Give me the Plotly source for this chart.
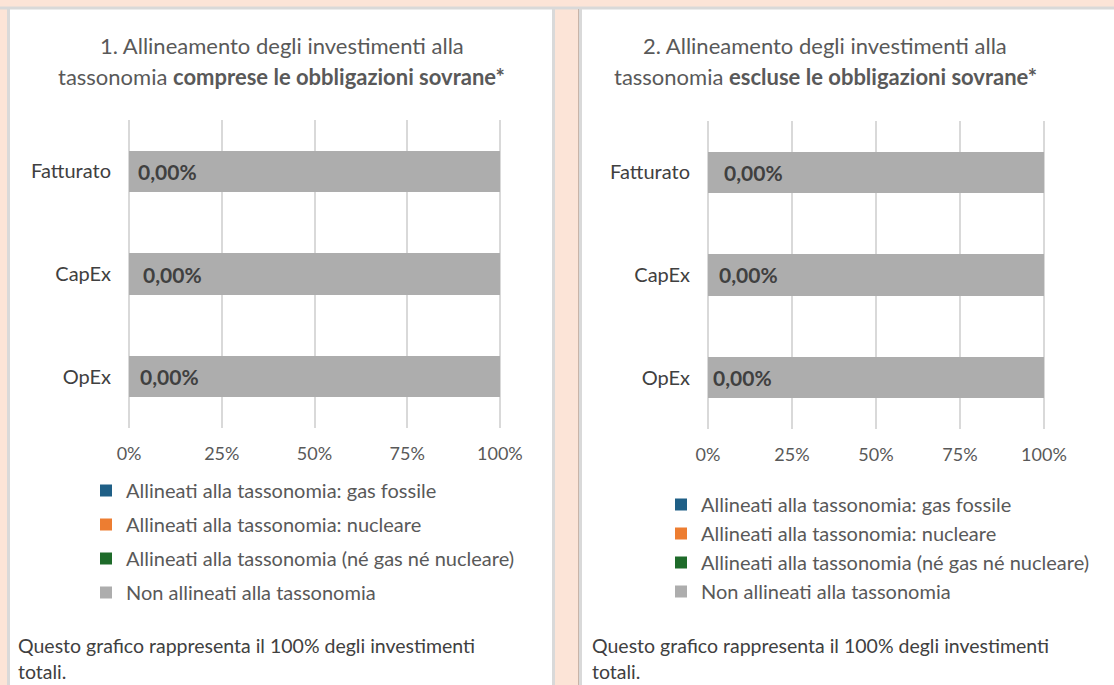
import plotly.graph_objects as go

# ---------------- data ----------------
categories = ["Fatturato", "CapEx", "OpEx"]
series_names = [
    "Allineati alla tassonomia: gas fossile",
    "Allineati alla tassonomia: nucleare",
    "Allineati alla tassonomia (né gas né nucleare)",
    "Non allineati alla tassonomia",
]
series_colors = ["#1F5F86", "#ED7D31", "#1E6B2A", "#ADADAD"]

# chart 1: including sovereign bonds
incl_gas = [0, 0, 0]
incl_nuclear = [0, 0, 0]
incl_other = [0, 0, 0]
incl_not_aligned = [100, 100, 100]

# chart 2: excluding sovereign bonds
excl_gas = [0, 0, 0]
excl_nuclear = [0, 0, 0]
excl_other = [0, 0, 0]
excl_not_aligned = [100, 100, 100]

tick_vals = [0, 25, 50, 75, 100]
tick_text = ["0%", "25%", "50%", "75%", "100%"]

title1_line1 = "1. Allineamento degli investimenti alla"
title1_line2 = "tassonomia <b>comprese le obbligazioni sovrane*</b>"
title2_line1 = "2. Allineamento degli investimenti alla"
title2_line2 = "tassonomia <b>escluse le obbligazioni sovrane*</b>"
note_line1 = "Questo grafico rappresenta il 100% degli investimenti"
note_line2 = "totali."

# ---------------- layout helpers ----------------
W, H = 1114, 685
FONT = "Lato, 'Open Sans', sans-serif"


def px(x):
    return x / W


def py(y):
    return 1 - y / H


fig = go.Figure()

chart_data = [
    (incl_gas, incl_nuclear, incl_other, incl_not_aligned),
    (excl_gas, excl_nuclear, excl_other, excl_not_aligned),
]
for ci, values in enumerate(chart_data):
    xa = "x" if ci == 0 else "x2"
    ya = "y" if ci == 0 else "y2"
    lg = "legend" if ci == 0 else "legend2"
    for si, (name, color, vals) in enumerate(zip(series_names, series_colors, values)):
        fig.add_trace(go.Bar(
            x=vals, y=categories, orientation="h", name=name,
            marker=dict(color=color, line=dict(width=0)),
            xaxis=xa, yaxis=ya, legend=lg,
            legendgroup=f"c{ci}s{si}", hoverinfo="skip",
        ))

# aligned totals for the labels
labels1 = [a + b + c for a, b, c in zip(incl_gas, incl_nuclear, incl_other)]
labels2 = [a + b + c for a, b, c in zip(excl_gas, excl_nuclear, excl_other)]
shifts1 = [7, 12, 9]
shifts2 = [14, 9, 3]

annotations = []
for cat, v, s in zip(categories, labels1, shifts1):
    annotations.append(dict(x=0, y=cat, xref="x", yref="y", xanchor="left", xshift=s,
                            text="<b>" + f"{v:.2f}".replace(".", ",") + "%</b>", showarrow=False,
                            font=dict(family=FONT, size=21, color="#404040")))
for cat, v, s in zip(categories, labels2, shifts2):
    annotations.append(dict(x=0, y=cat, xref="x2", yref="y2", xanchor="left", xshift=s,
                            text="<b>" + f"{v:.2f}".replace(".", ",") + "%</b>", showarrow=False,
                            font=dict(family=FONT, size=21, color="#404040")))

# titles
for txt, cx, cy in [(title1_line1, 282, 46), (title1_line2, 281, 77),
                    (title2_line1, 825, 46), (title2_line2, 825, 77)]:
    annotations.append(dict(x=px(cx), y=py(cy), xref="paper", yref="paper", text=txt,
                            showarrow=False, xanchor="center", yanchor="middle",
                            font=dict(family=FONT, size=22, color="#595959")))
# footnotes
for x0 in (16, 590):
    for txt, cy in [(note_line1, 645), (note_line2, 671)]:
        annotations.append(dict(x=px(x0), y=py(cy), xref="paper", yref="paper", text=txt,
                                showarrow=False, xanchor="left", yanchor="middle",
                                font=dict(family=FONT, size=19.5, color="#404040")))

BORDER = "#D9D9D9"
shapes = [
    dict(type="rect", xref="paper", yref="paper", x0=px(9), x1=px(553), y0=py(700), y1=py(9),
         fillcolor="white", line=dict(width=0), layer="below"),
    dict(type="rect", xref="paper", yref="paper", x0=px(580), x1=px(1130), y0=py(700), y1=py(9),
         fillcolor="white", line=dict(width=0), layer="below"),
    dict(type="line", xref="paper", yref="paper", x0=0, x1=1, y0=py(8), y1=py(8),
         line=dict(color=BORDER, width=3), layer="below"),
    dict(type="line", xref="paper", yref="paper", x0=px(8.5), x1=px(8.5), y0=py(700), y1=py(8),
         line=dict(color=BORDER, width=3), layer="below"),
    dict(type="line", xref="paper", yref="paper", x0=px(553.5), x1=px(553.5), y0=py(700), y1=py(8),
         line=dict(color=BORDER, width=3), layer="below"),
    dict(type="line", xref="paper", yref="paper", x0=px(578.5), x1=px(578.5), y0=py(700), y1=py(9),
         line=dict(color="#C8B4A8", width=1), layer="below"),
    dict(type="line", xref="paper", yref="paper", x0=px(580.5), x1=px(580.5), y0=py(700), y1=py(8),
         line=dict(color=BORDER, width=3), layer="below"),
]

xaxis_common = dict(range=[-0.3, 100.3], tickvals=tick_vals, ticktext=tick_text, showgrid=True,
                    gridcolor="#D9D9D9", gridwidth=1.5, zeroline=False, showline=False,
                    ticks="", ticklabelstandoff=13, fixedrange=True, automargin=False,
                    tickfont=dict(family=FONT, size=18, color="#595959"))
yaxis_common = dict(autorange="reversed", showgrid=False, zeroline=False, showline=False,
                    ticks="", ticklabelstandoff=16, fixedrange=True, automargin=False,
                    tickfont=dict(family=FONT, size=20, color="#404040"))

legend_common = dict(orientation="v", xanchor="left", yanchor="top", bgcolor="rgba(0,0,0,0)",
                     font=dict(family=FONT, size=20, color="#595959"), traceorder="grouped",
                     itemclick=False, itemdoubleclick=False)

fig.update_layout(
    width=W, height=H, margin=dict(l=0, r=0, t=0, b=0, autoexpand=False),
    paper_bgcolor="#FCE4D7", plot_bgcolor="rgba(0,0,0,0)",
    barmode="stack", bargap=0.6, showlegend=True,
    xaxis=dict(domain=[px(128), px(501)], anchor="y", **xaxis_common),
    yaxis=dict(domain=[py(428), py(120)], anchor="x", **yaxis_common),
    xaxis2=dict(domain=[px(707), px(1045)], anchor="y2", **xaxis_common),
    yaxis2=dict(domain=[py(429), py(121)], anchor="x2", **yaxis_common),
    legend=dict(x=px(86), y=py(471), tracegroupgap=5, **legend_common),
    legend2=dict(x=px(661), y=py(485), tracegroupgap=0, **legend_common),
    annotations=annotations, shapes=shapes,
    font=dict(family=FONT),
)

fig.write_html("out.html", config={"displayModeBar": False},
               post_script="document.body.style.margin='0';document.body.style.overflow='hidden';")
